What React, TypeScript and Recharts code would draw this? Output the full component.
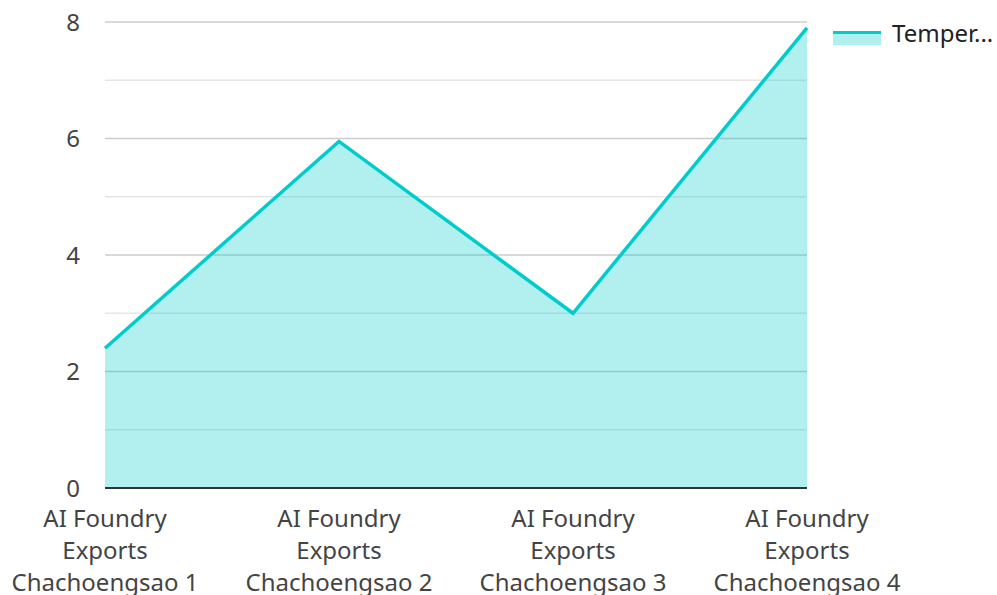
import React from 'react';
import { AreaChart, Area, XAxis, YAxis, CartesianGrid } from 'recharts';

const categories = [
  'AI Foundry Exports Chachoengsao 1',
  'AI Foundry Exports Chachoengsao 2',
  'AI Foundry Exports Chachoengsao 3',
  'AI Foundry Exports Chachoengsao 4',
];
const temperatureValues = [2.4, 5.95, 3.0, 7.9];
const yTicks = [0, 2, 4, 6, 8];
const minorGrid = [1, 3, 5, 7];
const majorGrid = [2, 4, 6, 8];
const seriesName = 'Temper...';

const data = categories.map((c, i) => ({ name: c, value: temperatureValues[i] }));

const FONT = '"Noto Sans", sans-serif';
const TEAL = '#00cccc';

function wrap(text: string, maxChars: number): string[] {
  const words = text.split(' ');
  const lines: string[] = [];
  let cur = '';
  for (const w of words) {
    const next = cur ? cur + ' ' + w : w;
    if (next.length > maxChars && cur) {
      lines.push(cur);
      cur = w;
    } else {
      cur = next;
    }
  }
  if (cur) lines.push(cur);
  return lines;
}

const XTick = (props: any) => {
  const { x, y, payload } = props;
  const lines = wrap(String(payload.value), 14);
  return (
    <text x={x} y={y} textAnchor="middle" fill="#444" fontSize={24} fontFamily={FONT}>
      {lines.map((l, i) => (
        <tspan key={i} x={x} y={y + 37 + i * 32}>
          {l}
        </tspan>
      ))}
    </text>
  );
};

const LegendBox = () => (
  <div style={{ position: 'absolute', left: 833, top: 20, width: 164, height: 30, fontFamily: FONT }}>
    <div style={{ position: 'absolute', left: 0, top: 11, width: 48, height: 3, background: TEAL }} />
    <div style={{ position: 'absolute', left: 0, top: 14, width: 48, height: 11, background: 'rgba(0,204,204,0.3)' }} />
    <div style={{ position: 'absolute', left: 59, top: -4, fontSize: 24, color: '#222', whiteSpace: 'nowrap' }}>
      {seriesName}
    </div>
  </div>
);

export default function App() {
  return (
    <div style={{ position: 'absolute', left: 0, top: 0, width: 997, height: 595, background: '#fff' }}>
      <AreaChart
        width={997}
        height={595}
        data={data}
        margin={{ top: 22, right: 190, bottom: 0, left: 0 }}
      >
        <CartesianGrid vertical={false} horizontalValues={minorGrid} stroke="#e6e6e6" strokeWidth={1.5} />
        <CartesianGrid vertical={false} horizontalValues={majorGrid} stroke="#cccccc" strokeWidth={1.5} />
        <XAxis
          dataKey="name"
          height={107}
          tick={<XTick />}
          tickLine={false}
          tickSize={0}
          interval={0}
          axisLine={{ stroke: '#333', strokeWidth: 2 }}
        />
        <YAxis
          width={105}
          domain={[0, 8]}
          ticks={yTicks}
          axisLine={false}
          tickLine={false}
          tickSize={0}
          tickMargin={25}
          tick={{ fill: '#444', fontSize: 24, fontFamily: FONT }}
        />
        <Area
          type="linear"
          dataKey="value"
          name={seriesName}
          stroke={TEAL}
          strokeWidth={3.5}
          fill={TEAL}
          fillOpacity={0.3}
          dot={false}
          activeDot={false}
          isAnimationActive={false}
        />
      </AreaChart>
      <LegendBox />
    </div>
  );
}
